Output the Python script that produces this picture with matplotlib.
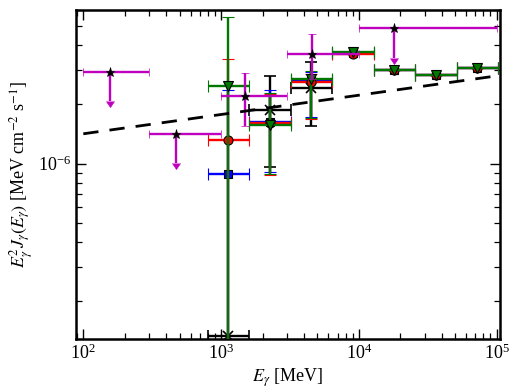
import matplotlib
matplotlib.use('Agg')
import matplotlib.pyplot as plt
import numpy as np
from matplotlib.ticker import LogLocator, NullFormatter

plt.rcParams['font.family'] = 'serif'
plt.rcParams['font.serif'] = ['Liberation Serif', 'DejaVu Serif']
plt.rcParams['mathtext.fontset'] = 'stix'

# ---- data ----
bin_center = [1130, 2260, 4520, 9050, 18100, 36200, 72400]
bin_lo = [800, 1600, 3200, 6400, 12800, 25600, 51200]
bin_hi = [1600, 3200, 6400, 12800, 25600, 51200, 102400]

green_y = [2.47e-6, 1.57e-6, 2.70e-6, 3.70e-6, 3.00e-6, 2.81e-6, 3.05e-6]
green_lo = [1e-9, 8.9e-7, 1.71e-6, 3.70e-6, 3.00e-6, 2.81e-6, 3.05e-6]
green_hi = [5.55e-6, 2.29e-6, 2.95e-6, 3.70e-6, 3.00e-6, 2.81e-6, 3.05e-6]

red_y = [1.32e-6, 1.61e-6, 2.59e-6, 3.60e-6, 3.00e-6, 2.81e-6, 3.05e-6]
red_lo = [1e-9, 8.8e-7, 1.69e-6, 3.60e-6, 3.00e-6, 2.81e-6, 3.05e-6]
red_hi = [3.41e-6, 2.26e-6, 2.85e-6, 3.60e-6, 3.00e-6, 2.81e-6, 3.05e-6]

blue_y = [8.9e-7, 1.62e-6, 2.65e-6, 3.65e-6, 3.00e-6, 2.81e-6, 3.05e-6]
blue_lo = [1e-9, 9.1e-7, 1.73e-6, 3.65e-6, 3.00e-6, 2.81e-6, 3.05e-6]
blue_hi = [2.35e-6, 2.35e-6, 2.90e-6, 3.65e-6, 3.00e-6, 2.81e-6, 3.05e-6]

black_E = [1130, 2260, 4520]
black_Elo = [800, 1600, 3200]
black_Ehi = [1600, 3200, 6400]
black_y = [1.34e-7, 1.88e-6, 2.42e-6]
black_lo = [1.34e-7, 9.6e-7, 1.56e-6]
black_hi = [1.34e-7, 2.77e-6, 3.28e-6]

# magenta upper limits
ul_E = [155, 470, 18000]
ul_Elo = [100, 300, 10000]
ul_Ehi = [300, 1000, 100000]
ul_y = [2.92e-6, 1.42e-6, 4.85e-6]

# magenta detections
mag_E = [1500, 4600]
mag_Elo = [1000, 3000]
mag_Ehi = [3000, 10000]
mag_y = [2.21e-6, 3.58e-6]
mag_lo = [1.56e-6, 2.70e-6]
mag_hi = [2.89e-6, 4.53e-6]

# power-law model line
model_E = [1e2, 1e5]
model_F = [1.417e-6, 2.786e-6]


def xerr_of(c, lo, hi):
    c = np.asarray(c, float)
    return [c - np.asarray(lo, float), np.asarray(hi, float) - c]


def yerr_of(v, lo, hi):
    v = np.asarray(v, float)
    return [v - np.asarray(lo, float), np.asarray(hi, float) - v]


fig = plt.figure(figsize=(5.1, 3.92), dpi=100)
ax = fig.add_axes([76 / 510, 1 - 339 / 392, 424 / 510, 329.5 / 392])

ekw = dict(elinewidth=1.7, capthick=1.7, capsize=4, linestyle='none')
dgreen = (0.0, 0.47, 0.0)

ax.errorbar(black_E, black_y, xerr=xerr_of(black_E, black_Elo, black_Ehi),
            yerr=yerr_of(black_y, black_lo, black_hi), color='k', marker='x',
            ms=6.5, mew=1.2, zorder=3, **ekw)
ax.errorbar(bin_center, blue_y, xerr=xerr_of(bin_center, bin_lo, bin_hi),
            yerr=yerr_of(blue_y, blue_lo, blue_hi), color='b', marker='s',
            ms=6, mfc='b', mec='k', mew=0.8, zorder=4, **ekw)
ax.errorbar(bin_center, red_y, xerr=xerr_of(bin_center, bin_lo, bin_hi),
            yerr=yerr_of(red_y, red_lo, red_hi), color='r', marker='o',
            ms=6.5, mfc='r', mec='k', mew=0.8, zorder=5, **ekw)
ax.errorbar(bin_center, green_y, xerr=xerr_of(bin_center, bin_lo, bin_hi),
            yerr=yerr_of(green_y, green_lo, green_hi), color=dgreen, marker='v',
            ms=6.5, mfc=dgreen, mec='k', mew=0.8, zorder=6, **ekw)

mcol = (0.75, 0, 0.75)
ax.errorbar(mag_E, mag_y, xerr=xerr_of(mag_E, mag_Elo, mag_Ehi),
            yerr=yerr_of(mag_y, mag_lo, mag_hi), color=mcol, marker='*',
            ms=6.5, mfc='k', mec='k', mew=0.5, zorder=7, elinewidth=1.7,
            capthick=1.7, capsize=3, linestyle='none')
ul_arr = np.asarray(ul_y) * 0.29
ax.errorbar(ul_E, ul_y, xerr=xerr_of(ul_E, ul_Elo, ul_Ehi), yerr=ul_arr,
            uplims=True, color=mcol, marker='*', ms=6.5, mfc='k', mec='k',
            mew=0.5, zorder=7, elinewidth=1.7, capthick=1.7, capsize=3,
            linestyle='none')

ax.plot(model_E, model_F, color='k', lw=2.0, dashes=(5.5, 4), zorder=8)

ax.set_xscale('log')
ax.set_yscale('log')
ax.set_xlim(88.5, 1.057e5)
ax.set_ylim(1.29e-7, 6.05e-6)

ax.xaxis.set_major_locator(LogLocator(base=10, numticks=10))
ax.xaxis.set_minor_locator(LogLocator(base=10, subs=np.arange(2, 10), numticks=20))
ax.yaxis.set_minor_locator(LogLocator(base=10, subs=np.arange(2, 10), numticks=20))
ax.xaxis.set_minor_formatter(NullFormatter())
ax.yaxis.set_minor_formatter(NullFormatter())

ax.tick_params(which='both', direction='in', top=True, right=True, labelsize=13)
ax.tick_params(which='major', length=7, width=1.0)
ax.tick_params(which='minor', length=4, width=0.9)
for s in ax.spines.values():
    s.set_linewidth(1.8)

ax.set_xlabel(r'$E_\gamma$ [MeV]', fontsize=13, labelpad=2)
ax.set_ylabel(r'$E_\gamma^2 J_\gamma(E_\gamma)$ [MeV cm$^{-2}$ s$^{-1}$]', fontsize=13, labelpad=2)

fig.savefig('out.png', dpi=100)
